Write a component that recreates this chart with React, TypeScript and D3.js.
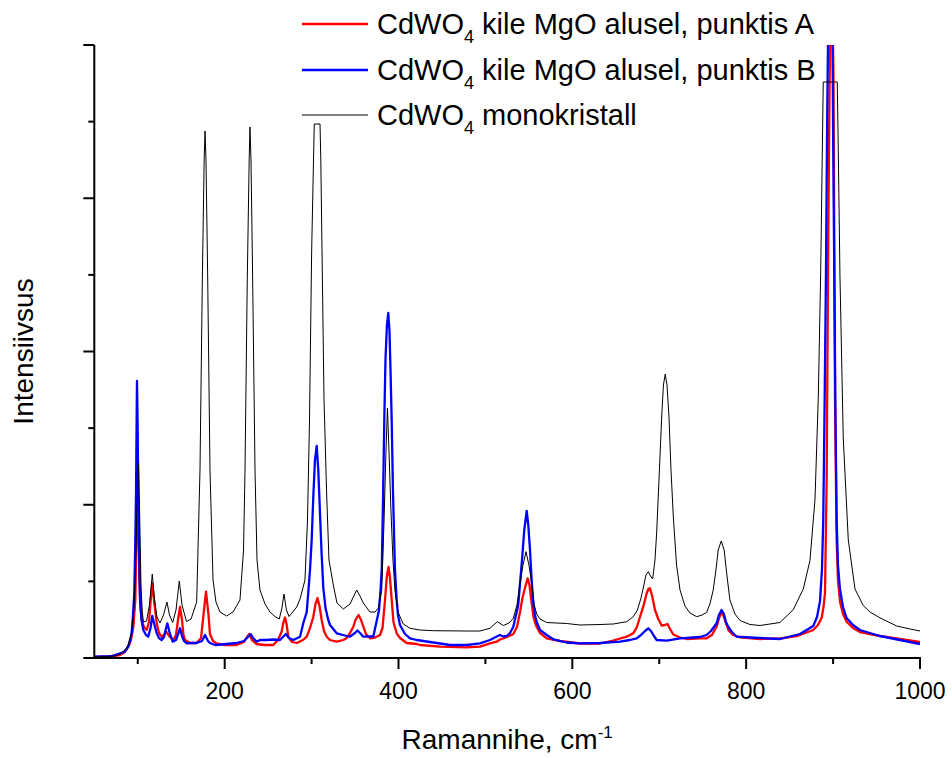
import React from 'react';
import * as d3 from 'd3';

// ---- Data (Raman shift, cm^-1 ; intensity, arbitrary units) ----
const xDomain: [number, number] = [50, 1000];
const yDomain: [number, number] = [0, 613];
const xMajorTicks = [200, 400, 600, 800, 1000];
const xMinorTicks = [100, 300, 500, 700, 900];
const yTickSteps = 8;

const blackSpectrum: [number, number][] = [
  [50, 1], [62.3, 1.5], [73.8, 2], [79.6, 4], [85.3, 8], [88.8, 13], [92.2, 23], [95.1, 43], [97.4, 88], [99.1, 148],
  [100.9, 195], [102.2, 143], [103.7, 73], [105.2, 46], [106.6, 36], [110.1, 37], [113.5, 53], [116.7, 84], [119.3, 58],
  [122.1, 41], [125.6, 35], [129.6, 43], [133.6, 56], [136.5, 43], [140.2, 35.5], [144.0, 48], [147.8, 77], [150.9, 53],
  [156.1, 36.5], [161.3, 39], [167.8, 56], [171.6, 188], [174.3, 378], [176.4, 498], [177.4, 527], [178.5, 498],
  [180.5, 378], [183.1, 188], [186.6, 78], [190.0, 56], [194.6, 46], [202.3, 42], [209.6, 46], [217.6, 58], [221.7, 108],
  [223.4, 188], [226.0, 378], [228.2, 498], [229.1, 531], [230.3, 498], [232.2, 378], [234.9, 188], [237.2, 98],
  [240.6, 68], [246.4, 54], [252.1, 46], [257.9, 41.5], [262.8, 39], [265.9, 50], [268.2, 64], [271.1, 48], [274.0, 41.5],
  [282.9, 51], [286.7, 59], [292.4, 78], [295.3, 138], [297.6, 238], [300.1, 408], [302.2, 498], [303.1, 534],
  [309.7, 534], [310.6, 498], [312.3, 388], [314.3, 258], [317.4, 162], [320.0, 98], [325.0, 73], [329.2, 55],
  [336.5, 49], [344.2, 54], [351.9, 68], [355.7, 62], [359.5, 55], [367.2, 46], [373.0, 46], [376.8, 50], [380.7, 68],
  [383.4, 138], [385.6, 208], [387.3, 250], [389.0, 208], [391.3, 148], [393.6, 98], [395.9, 68], [399.4, 46],
  [405.5, 34], [413.2, 29.7], [424.7, 28], [440.0, 27.3], [478.4, 27], [493.7, 27], [505.2, 29.7], [513.6, 36.3],
  [520.6, 32.5], [527.1, 35], [532.1, 39.7], [536.3, 53], [539.8, 74.7], [543.2, 93], [546.7, 106.3], [550.1, 93],
  [553.2, 74.7], [555.9, 54], [559.0, 44], [562.8, 39], [570.5, 35.5], [593.5, 34.5], [608.8, 33], [631.8, 33.5],
  [647.1, 34], [662.5, 36.3], [670.1, 41.3], [674.9, 48], [679.0, 60], [681.6, 70], [684.7, 83], [687.4, 86.3],
  [689.9, 82], [692.4, 79], [695.1, 98], [697.0, 125], [699.7, 178], [702.8, 241], [704.8, 273], [706.9, 284],
  [708.9, 273], [711.2, 241], [713.5, 188], [716.2, 141], [719.9, 93], [723.9, 68], [729.6, 52], [735.4, 45],
  [743.1, 41.3], [749.2, 43], [754.5, 45.5], [758.3, 54], [762.1, 68], [765.2, 88], [767.8, 108], [771.3, 117],
  [774.7, 108], [777.8, 83], [781.3, 58], [787.1, 44], [792.9, 37.5], [804.4, 33.5], [815.9, 32.5], [838.9, 35.5],
  [854.2, 48.4], [865.7, 69], [873.4, 97.4], [879.2, 158.6], [883.0, 261], [885.7, 383], [887.6, 506], [888.7, 576],
  [904.8, 576], [906.0, 506], [907.9, 383], [911.7, 220], [917.5, 118], [925.2, 69], [934.7, 52.5], [942.4, 46],
  [953.9, 40.2], [973.2, 32], [988.5, 29], [1000, 27],
];

const redSpectrum: [number, number][] = [
  [50, 1], [68.1, 1.5], [79.6, 3], [85.3, 6], [89.1, 11.3], [92.2, 18], [94.9, 31], [97.2, 58], [98.0, 98], [99.1, 133],
  [99.9, 151.3], [100.9, 128], [101.8, 81], [103.2, 50], [104.5, 38], [107.2, 31], [110.3, 28], [112.9, 36], [114.9, 58],
  [116.7, 74.7], [118.7, 58], [121.8, 34.7], [124.4, 25], [127.5, 21.3], [130.2, 23], [133.3, 26], [135.9, 22],
  [140.9, 18], [144.0, 23], [146.3, 38], [148.6, 51], [150.9, 38], [152.6, 23], [154.4, 18], [160.1, 15], [167.8, 15],
  [172.8, 20], [175.6, 43], [178.5, 66.3], [181.4, 43], [183.1, 24], [186.6, 17], [190.8, 14.5], [200.4, 13],
  [213.8, 13], [222.2, 16], [225.7, 21], [228.3, 24], [231.4, 18], [236.8, 14], [246.4, 13], [255.9, 13], [261.3, 18],
  [265.4, 26], [267.7, 36], [269.4, 40.5], [271.4, 33], [273.2, 21], [277.5, 16], [282.9, 15], [290.1, 18],
  [294.4, 21.3], [298.2, 30], [302.0, 41.3], [304.5, 54], [306.8, 60], [309.1, 52], [311.6, 38], [314.3, 27],
  [317.4, 21.3], [321.2, 18], [328.9, 16.3], [336.5, 18], [340.4, 20], [344.2, 25], [348.0, 31.3], [350.5, 38],
  [354.0, 43], [356.9, 38], [359.5, 31.3], [362.6, 24], [367.2, 19.7], [373.0, 20.5], [378.7, 23], [381.6, 30],
  [384.5, 58], [386.5, 81], [388.5, 91], [390.2, 80], [392.2, 58], [394.2, 36], [397.9, 24.7], [401.7, 20],
  [409.4, 15], [420.9, 14], [424.7, 13], [447.7, 11.3], [478.4, 10.7], [493.7, 11.3], [505.2, 14.7], [513.0, 16.3],
  [516.7, 18.5], [523.7, 20.5], [532.1, 24], [536.3, 31], [539.8, 46], [542.6, 60], [545.5, 70], [548.6, 79.7],
  [550.7, 73], [553.2, 54.7], [555.3, 41], [557.0, 36], [559.0, 31], [562.8, 25], [570.5, 19.7], [585.8, 17],
  [608.8, 14.5], [631.8, 14.5], [647.1, 17.5], [662.5, 21.3], [670.1, 24.7], [674.3, 31], [677.8, 41], [681.6, 51.3],
  [685.3, 64], [687.6, 69], [689.3, 69.7], [691.6, 63], [695.1, 48], [698.9, 39], [702.8, 32.5], [706.6, 33],
  [709.5, 34], [712.4, 29], [716.2, 23.5], [723.9, 20.5], [731.6, 19], [746.9, 19.7], [754.5, 19.7], [760.6, 23],
  [766.0, 31.3], [769.2, 41], [772.4, 46], [775.5, 38], [779.4, 28], [784.8, 23], [792.9, 20.7], [815.9, 19],
  [838.9, 19.5], [858.1, 21.9], [877.2, 28], [882.6, 33], [886.9, 40.2], [889.0, 51], [890.7, 65], [892.6, 179],
  [894.5, 424], [896.0, 578], [898.3, 718], [900.5, 578], [901.4, 408], [902.2, 261], [904.1, 118], [905.6, 78],
  [907.9, 56.6], [911.4, 44], [915.6, 36.2], [922.9, 30], [930.9, 26], [942.4, 24], [953.9, 22], [977.0, 19], [1000, 16],
];

const blueSpectrum: [number, number][] = [
  [50, 1.3], [62.3, 1.5], [68.1, 1.5], [73.8, 3], [77.3, 4], [79.6, 4.7], [84.2, 6], [87.3, 9], [89.9, 13], [93.0, 24.7],
  [94.5, 43], [96.0, 64.7], [97.2, 118], [98.0, 165], [98.7, 238], [99.1, 277], [99.8, 238], [100.6, 165], [101.7, 98],
  [102.6, 58], [104.3, 38], [106.4, 28], [109.5, 23], [112.1, 21.3], [114.7, 30], [116.7, 42], [119.3, 33],
  [121.8, 24.7], [124.4, 20], [127.5, 18], [130.2, 21], [132.3, 29], [134.0, 34.7], [136.5, 26], [140.2, 16.3],
  [144.0, 18], [146.5, 24], [148.6, 29.7], [150.9, 22], [153.2, 17], [156.3, 14.7], [162.4, 15], [167.8, 15],
  [173.9, 17], [177.4, 23], [180.8, 17], [183.1, 15], [188.9, 13], [202.3, 14], [213.8, 15], [222.2, 17], [226.8, 21],
  [229.9, 24], [232.6, 20], [236.8, 16.3], [240.6, 18], [248.3, 18], [255.6, 18.5], [263.6, 18], [267.1, 21],
  [270.5, 24], [274.0, 20], [279.0, 18], [286.7, 21.3], [290.5, 35], [294.4, 46], [296.4, 68], [298.2, 88.4],
  [300.1, 118], [302.0, 162], [303.9, 198], [305.9, 212], [307.7, 188], [309.7, 144], [311.6, 103], [313.5, 70],
  [316.0, 50], [319.2, 38], [321.2, 33], [328.9, 24.7], [340.4, 22], [344.2, 21.3], [349.9, 25], [352.8, 27.5],
  [355.7, 25], [359.5, 21.3], [363.4, 21.5], [371.0, 21.5], [374.9, 37], [377.6, 48], [379.3, 68], [380.7, 88.4],
  [382.2, 158], [383.6, 236], [385.0, 298], [386.7, 333], [388.2, 345], [389.6, 328], [390.8, 288], [392.2, 236],
  [393.6, 168], [395.9, 88.4], [397.9, 58], [399.4, 43], [401.7, 33], [407.5, 24], [413.2, 19.7], [420.9, 18],
  [424.7, 17.5], [459.2, 13], [478.4, 13], [493.7, 14.7], [505.2, 18], [513.0, 21.5], [516.7, 23], [520.6, 21.5],
  [524.5, 22], [528.3, 25], [532.1, 31.3], [535.2, 43], [537.8, 53], [539.8, 74.7], [542.1, 98], [544.7, 128],
  [547.5, 147], [549.3, 133], [551.3, 108], [553.2, 78], [555.1, 54.7], [557.0, 43], [559.0, 36], [562.8, 28],
  [570.5, 23], [578.1, 18.7], [593.5, 15.5], [608.8, 14.7], [631.8, 15], [654.8, 16.3], [666.3, 18], [674.0, 19.7],
  [679.0, 23], [683.6, 27], [687.4, 29.7], [690.5, 27], [693.9, 22], [697.0, 18], [708.6, 17.3], [723.9, 19.7],
  [746.9, 21], [754.5, 23], [759.5, 27], [762.9, 31], [766.0, 34.7], [768.6, 43], [771.7, 48], [774.4, 44],
  [776.7, 36], [779.4, 31.3], [783.6, 26], [789.1, 21.3], [804.4, 20.5], [838.9, 19], [861.9, 24], [877.2, 32],
  [881.5, 41], [884.9, 56.6], [887.2, 88], [888.7, 138], [890.3, 258], [891.8, 383], [893.2, 538], [894.4, 638],
  [896.7, 738], [899.1, 638], [900.2, 508], [901.4, 383], [902.8, 238], [904.1, 138], [905.6, 93], [907.9, 69],
  [911.4, 51], [915.6, 40], [922.9, 33], [930.9, 28], [942.4, 25], [953.9, 22], [977.0, 18], [1000, 14],
];

const legendMain = ['CdWO', 'CdWO', 'CdWO'];
const legendSub = ['4', '4', '4'];
const legendRest = [' kile MgO alusel, punktis A', ' kile MgO alusel, punktis B', ' monokristall'];
const seriesColors = ['#ff0000', '#0000ff', '#000000'];
const seriesWidths = [2.3, 2.3, 1];
const xTitle = 'Ramannihe, cm';
const xTitleSup = '-1';
const yTitle = 'Intensiivsus';

const FONT = '"Liberation Sans", Arial, Helvetica, sans-serif';

export default function App() {
  const W = 952;
  const H = 758;
  const left = 94.3;
  const right = 920;
  const top = 45;
  const bottom = 658;

  const x = d3.scaleLinear().domain(xDomain).range([left, right]);
  const y = d3.scaleLinear().domain(yDomain).range([bottom, top]);
  const line = d3
    .line<[number, number]>()
    .x((d) => x(d[0]))
    .y((d) => y(d[1]));

  const series = [redSpectrum, blueSpectrum, blackSpectrum];
  const yTicks = d3.range(0, yTickSteps + 1).map((i) => (i * yDomain[1]) / yTickSteps);

  const legendY = [24, 70, 115];

  return (
    <div style={{ position: 'absolute', left: 0, top: 0 }}>
      <svg width={W} height={H} style={{ display: 'block', background: '#fff' }} fontFamily={FONT}>
        <defs>
          <clipPath id="plotClip">
            <rect x={left} y={top} width={right - left} height={bottom - top} />
          </clipPath>
        </defs>
        <rect x={0} y={0} width={W} height={H} fill="#fff" />

        <g clipPath="url(#plotClip)">
          {series.map((s, i) => (
            <path
              key={i}
              d={line(s) || ''}
              fill="none"
              stroke={seriesColors[i]}
              strokeWidth={seriesWidths[i]}
              strokeLinejoin="round"
            />
          ))}
        </g>

        {/* axes */}
        <line x1={left} x2={left} y1={top} y2={bottom} stroke="#000" strokeWidth={2} />
        <line x1={left - 1} x2={right + 1} y1={bottom} y2={bottom} stroke="#000" strokeWidth={2} />
        {yTicks.map((t, i) => (
          <line
            key={'yt' + i}
            x1={left}
            x2={left - (i % 2 === 0 ? 11 : 6)}
            y1={y(t)}
            y2={y(t)}
            stroke="#000"
            strokeWidth={2}
          />
        ))}
        {xMajorTicks.map((t) => (
          <line key={'xM' + t} x1={x(t)} x2={x(t)} y1={bottom} y2={bottom + 11} stroke="#000" strokeWidth={2} />
        ))}
        {xMinorTicks.map((t) => (
          <line key={'xm' + t} x1={x(t)} x2={x(t)} y1={bottom} y2={bottom + 6} stroke="#000" strokeWidth={2} />
        ))}
        {xMajorTicks.map((t) => (
          <text key={'xl' + t} x={x(t)} y={bottom + 41} fontSize={23} textAnchor="middle" fill="#000">
            {t}
          </text>
        ))}

        {/* axis titles */}
        <text x={(left + right) / 2} y={749} fontSize={28} textAnchor="middle" fill="#000">
          {xTitle}
          <tspan dy={-11} fontSize={17}>
            {xTitleSup}
          </tspan>
        </text>
        <text transform={`translate(33, ${(top + bottom) / 2}) rotate(-90)`} fontSize={28} textAnchor="middle" fill="#000">
          {yTitle}
        </text>

        {/* legend */}
        {legendY.map((ly, i) => (
          <g key={'lg' + i}>
            <line x1={302} x2={368} y1={ly} y2={ly} stroke={seriesColors[i]} strokeWidth={seriesWidths[i]} />
            <text x={377} y={ly + 10} fontSize={29} fill="#000" style={{ whiteSpace: 'pre' }}>
              {legendMain[i]}
              <tspan dy={9} fontSize={18}>
                {legendSub[i]}
              </tspan>
              <tspan dy={-9} fontSize={29}>
                {legendRest[i]}
              </tspan>
            </text>
          </g>
        ))}
      </svg>
    </div>
  );
}
